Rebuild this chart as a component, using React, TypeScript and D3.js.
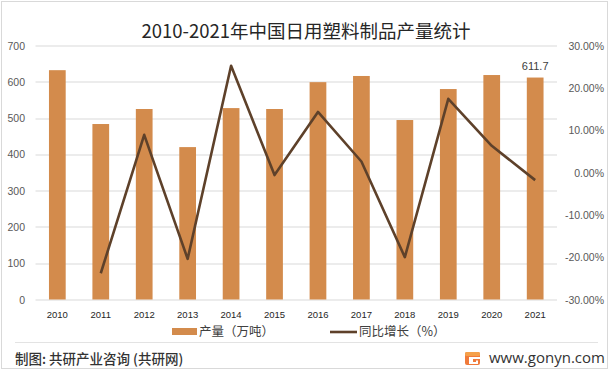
import React, { useEffect, useRef } from 'react';
import * as d3 from 'd3';

const years = ['2010', '2011', '2012', '2013', '2014', '2015', '2016', '2017', '2018', '2019', '2020', '2021'];
const output = [632, 483.6, 525, 420, 527.5, 525, 599, 616, 494.6, 580, 618.6, 611.7];
const growth = [null, -23.8, 8.9, -20.4, 25.2, -0.6, 14.3, 2.6, -20.0, 17.4, 6.3, -1.8];
const leftTicks = [0, 100, 200, 300, 400, 500, 600, 700];
const rightTicks = [-30, -20, -10, 0, 10, 20, 30];

const W = 612;
const H = 371;
const CJK = '"Noto Sans CJK SC", "Noto Sans", sans-serif';
const NUM = '"Liberation Sans", Arial, sans-serif';

function App() {
  const svgRef = useRef<SVGSVGElement>(null);

  useEffect(() => {
    if (!svgRef.current) return;
    const svg = d3.select(svgRef.current);
    svg.selectAll('*').remove();

    const margin = { top: 45.5, right: 55, bottom: 71.5, left: 35.5 };
    const innerWidth = W - margin.left - margin.right;
    const innerHeight = H - margin.top - margin.bottom;

    // outer frame
    svg.append('rect')
      .attr('x', 1.5).attr('y', 1.5)
      .attr('width', 606).attr('height', 367)
      .attr('fill', '#fff')
      .attr('stroke', '#d9d9d9');

    const x = d3.scaleBand().domain(years).range([0, innerWidth]).paddingInner(0.615).paddingOuter(0.31);
    const y = d3.scaleLinear().domain([0, 700]).range([innerHeight, 0]);
    const y2 = d3.scaleLinear().domain([-30, 30]).range([innerHeight, 0]);

    const g = svg.append('g').attr('transform', `translate(${margin.left},${margin.top})`);

    // gridlines
    g.selectAll('.grid')
      .data(leftTicks)
      .enter().append('line')
      .attr('x1', 0).attr('x2', innerWidth)
      .attr('y1', d => Math.round(y(d)) + 0.5).attr('y2', d => Math.round(y(d)) + 0.5)
      .attr('stroke', '#d9d9d9').attr('stroke-width', 1);

    // bars
    g.selectAll('.bar')
      .data(output)
      .enter().append('rect')
      .attr('x', (d, i) => x(years[i])!)
      .attr('y', d => y(d))
      .attr('width', x.bandwidth())
      .attr('height', d => innerHeight - y(d))
      .attr('fill', '#d38b4c');

    // line
    const pts = growth
      .map((v, i) => ({ year: years[i], v }))
      .filter(d => d.v !== null) as { year: string; v: number }[];
    const line = d3.line<{ year: string; v: number }>()
      .x(d => x(d.year)! + x.bandwidth() / 2)
      .y(d => y2(d.v));
    g.append('path')
      .datum(pts)
      .attr('fill', 'none')
      .attr('stroke', '#5e412a')
      .attr('stroke-width', 2.6)
      .attr('stroke-linejoin', 'round')
      .attr('d', line);

    // last label
    const last = output.length - 1;
    g.append('text')
      .attr('x', x(years[last])! + x.bandwidth() / 2)
      .attr('y', y(output[last]) - 8)
      .attr('text-anchor', 'middle')
      .style('font-family', NUM)
      .style('font-size', '11px')
      .style('fill', '#404040')
      .text(output[last].toFixed(1));

    // left axis labels
    g.selectAll('.lt')
      .data(leftTicks)
      .enter().append('text')
      .attr('x', -10.5)
      .attr('y', d => y(d) + 4)
      .attr('text-anchor', 'end')
      .style('font-family', NUM)
      .style('font-size', '10.5px')
      .style('fill', '#595959')
      .text(d => d);

    // right axis labels
    g.selectAll('.rt')
      .data(rightTicks)
      .enter().append('text')
      .attr('x', innerWidth + 47)
      .attr('y', d => y2(d) + 4)
      .attr('text-anchor', 'end')
      .style('font-family', NUM)
      .style('font-size', '10.5px')
      .style('fill', '#595959')
      .text(d => d.toFixed(2) + '%');

    // x labels
    g.selectAll('.xt')
      .data(years)
      .enter().append('text')
      .attr('x', d => x(d)! + x.bandwidth() / 2)
      .attr('y', innerHeight + 18)
      .attr('text-anchor', 'middle')
      .style('font-family', NUM)
      .style('font-size', '9.5px')
      .style('fill', '#262626')
      .text(d => d);

    // title
    svg.append('text')
      .attr('x', 306)
      .attr('y', 38)
      .attr('text-anchor', 'middle')
      .style('font-family', CJK)
      .style('font-size', '18.5px')
      .style('fill', '#262626')
      .text('2010-2021年中国日用塑料制品产量统计');

    // legend
    const lg = svg.append('g');
    lg.append('rect').attr('x', 172).attr('y', 328).attr('width', 25).attr('height', 7).attr('fill', '#d38b4c');
    lg.append('text').attr('x', 199).attr('y', 336)
      .style('font-family', CJK).style('font-size', '12.5px').style('fill', '#404040')
      .text('产量（万吨）');
    lg.append('line').attr('x1', 330).attr('x2', 357).attr('y1', 332).attr('y2', 332)
      .attr('stroke', '#5e412a').attr('stroke-width', 2.6);
    lg.append('text').attr('x', 359).attr('y', 336)
      .style('font-family', CJK).style('font-size', '12.5px').style('fill', '#404040')
      .text('同比增长（%）');

    // footer
    svg.append('line').attr('x1', 15).attr('x2', 598).attr('y1', 342.5).attr('y2', 342.5)
      .attr('stroke', '#e3e3e3');
    svg.append('text').attr('x', 15).attr('y', 364)
      .style('font-family', CJK).style('font-size', '13.5px').style('font-weight', 500).style('fill', '#333')
      .text('制图: 共研产业咨询 (共研网)');

    // logo
    const logo = svg.append('g').attr('transform', 'translate(465,352)');
    logo.append('rect').attr('width', 15).attr('height', 13).attr('rx', 2).attr('fill', '#f07a3a');
    logo.append('rect').attr('x', 0).attr('y', 0).attr('width', 15).attr('height', 4).attr('rx', 1.5).attr('fill', '#f5a04a');
    logo.append('path').attr('d', 'M4,5 H15 V7 H8 V10 H11 V8.5 H13 V12 H4 Z').attr('fill', '#fff');

    svg.append('text').attr('x', 489).attr('y', 363)
      .style('font-family', '"Open Sans", "Noto Sans", sans-serif').style('font-size', '15px').style('fill', '#333')
      .text('www.gonyn.com');
  }, []);

  return <svg ref={svgRef} width={W} height={H} style={{ position: 'absolute', left: 0, top: 0 }} />;
}

export default App;
